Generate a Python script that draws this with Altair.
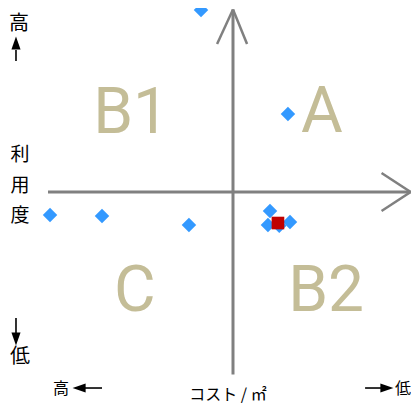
import altair as alt
import pandas as pd

# ---- data (x: cost axis, y: utilization axis; origin = axis crossing) ----
pt_x = [-1.73, 2.97, -9.89, -7.08, -2.38, 2.00, 1.89, 3.08, 2.50]
pt_y = [9.97, 4.27, -1.26, -1.32, -1.81, -1.04, -1.81, -1.64, -1.85]
red_x = [2.43]
red_y = [-1.70]

quad_labels = ["A", "B1", "C", "B2"]
quad_x = [4.81, -5.51, -5.30, 5.03]
quad_y = [3.29, 3.23, -6.52, -6.52]

# axis lines and open arrowheads (segments)
seg_x1 = [-10.0, 0.0, 0.0, 0.0, 9.6, 9.6]
seg_y1 = [0.0, -10.0, 10.0, 10.0, 0.0, 0.0]
seg_x2 = [9.6, 0.0, -0.86, 0.76, 8.03, 8.03]
seg_y2 = [0.0, 10.0, 8.11, 8.11, 1.04, -1.04]

# side / bottom texts
txt = ["高", "低", "利", "用", "度", "高", "低", "コスト / ㎡"]
txt_x = [-11.57, -11.51, -11.51, -11.51, -11.51, -9.30, 9.19, -0.27]
txt_y = [9.20, -9.04, 2.03, 0.33, -1.32, -10.79, -10.79, -11.12]
txt_size = [20, 20, 19, 19, 19, 16, 16, 16]

# small filled arrows next to texts: shafts
sh_x1 = [-11.73, -11.73, -8.00, 7.14]
sh_y1 = [7.78, -6.90, -10.74, -10.74]
sh_x2 = [-11.73, -11.73, -7.08, 8.00]
sh_y2 = [7.18, -7.73, -10.74, -10.74]
# heads
hd_x = [-11.73, -11.73, -8.32, 8.32]
hd_y = [8.16, -8.05, -10.74, -10.74]
hd_dir = ["up", "down", "left", "right"]

XD = [-12.162, 9.622]
YD = [-11.616, 10.082]
xs = alt.Scale(domain=XD, nice=False, zero=False)
ys = alt.Scale(domain=YD, nice=False, zero=False)

def X(f):
    return alt.X(f, type="quantitative", scale=xs, axis=None)

def Y(f):
    return alt.Y(f, type="quantitative", scale=ys, axis=None)

seg = pd.DataFrame({"x": seg_x1, "y": seg_y1, "x2": seg_x2, "y2": seg_y2})
axes_main = alt.Chart(seg.iloc[:2]).mark_rule(color="#808080", strokeWidth=3).encode(
    x=X("x"), y=Y("y"), x2="x2", y2="y2")
axes_heads = alt.Chart(seg.iloc[2:]).mark_rule(color="#808080", strokeWidth=2.5).encode(
    x=X("x"), y=Y("y"), x2="x2", y2="y2")

quad = alt.Chart(pd.DataFrame({"t": quad_labels, "x": quad_x, "y": quad_y})).mark_text(
    font="Roboto", fontSize=64, color="#C4BD97", align="center", baseline="alphabetic"
).encode(x=X("x"), y=Y("y"), text="t:N")

pts = alt.Chart(pd.DataFrame({"x": pt_x, "y": pt_y})).mark_point(
    shape="diamond", filled=True, size=210, color="#3399FF", opacity=1
).encode(x=X("x"), y=Y("y"))

red = alt.Chart(pd.DataFrame({"x": red_x, "y": red_y})).mark_point(
    shape="square", filled=True, size=160, color="#C00000", opacity=1
).encode(x=X("x"), y=Y("y"))

texts = alt.Chart(pd.DataFrame({"t": txt, "x": txt_x, "y": txt_y, "s": txt_size})).mark_text(
    font="Noto Sans CJK JP", color="#000000", align="center", baseline="middle"
).encode(x=X("x"), y=Y("y"), text="t:N", size=alt.Size("s:Q", scale=None, legend=None))

shafts = alt.Chart(pd.DataFrame({"x": sh_x1, "y": sh_y1, "x2": sh_x2, "y2": sh_y2})).mark_rule(
    color="#000000", strokeWidth=1.6).encode(x=X("x"), y=Y("y"), x2="x2", y2="y2")

paths = {
    "up": "M0,-1L0.7,1L-0.7,1Z",
    "down": "M0,1L0.7,-1L-0.7,-1Z",
    "left": "M-1,0L1,-0.7L1,0.7Z",
    "right": "M1,0L-1,-0.7L-1,0.7Z",
}
heads = []
for hx, hy, d in zip(hd_x, hd_y, hd_dir):
    heads.append(
        alt.Chart(pd.DataFrame({"x": [hx], "y": [hy]})).mark_point(
            shape=paths[d], filled=True, size=170, color="#000000", opacity=1, strokeWidth=0
        ).encode(x=X("x"), y=Y("y"))
    )

chart = alt.layer(axes_main, axes_heads, quad, pts, red, texts, shafts, *heads).properties(
    width=403, height=396,
    autosize=alt.AutoSizeParams(type="none"),
    padding=0,
    background="white",
).configure_view(stroke=None)

chart.save("out.html", embed_options={"renderer": "svg", "actions": False})
